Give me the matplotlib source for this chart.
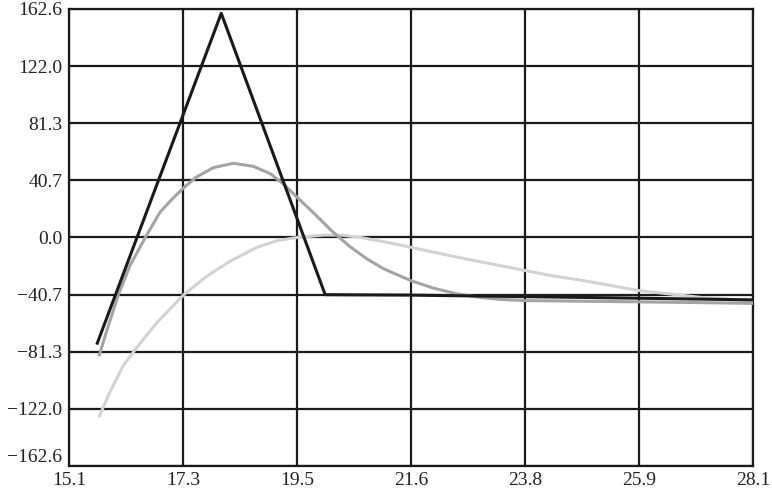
import numpy as np
import matplotlib
matplotlib.use('Agg')
import matplotlib.pyplot as plt

# values
x_ticks = [15.14, 17.3, 19.46, 21.62, 23.78, 25.94, 28.1]
x_labels = ['15.1', '17.3', '19.5', '21.6', '23.8', '25.9', '28.1']
y_ticks = [-162.6, -121.95, -81.3, -40.65, 0.0, 40.65, 81.3, 121.95, 162.6]
y_labels = ['\u2212162.6', '\u2212122.0', '\u221281.3', '\u221240.7', '0.0',
            '40.7', '81.3', '122.0', '162.6']

# dark line (piecewise)
x_dark = [15.67, 18.02, 19.99, 21.62, 23.78, 25.94, 28.1]
y_dark = [-75.2, 159.5, -40.7, -41.0, -42.1, -43.2, -44.4]

# medium grey curve
x_mid = [15.71, 15.85, 16.07, 16.29, 16.58, 16.86, 17.08, 17.31, 17.55, 17.87,
         18.25, 18.63, 18.95, 19.2, 19.46, 19.77, 20.12, 20.46, 20.78, 21.1,
         21.62, 22.04, 22.47, 22.98, 23.3, 23.78, 24.8, 25.94, 27.0, 28.1]
y_mid = [-83.5, -66.3, -40.7, -20.0, 0.0, 18.0, 27.0, 35.5, 43.0, 49.7,
         52.8, 50.6, 45.4, 38.0, 28.5, 17.5, 4.5, -6.5, -15.2, -22.3,
         -30.8, -36.0, -40.0, -42.9, -44.0, -44.9, -45.3, -45.8, -46.3, -46.9]

# light grey curve
x_light = [15.71, 15.91, 16.16, 16.42, 16.8, 17.31, 17.74, 18.19, 18.69, 19.07,
           19.46, 19.96, 20.3, 20.66, 21.1, 21.62, 22.36, 23.3, 23.78, 24.26,
           24.89, 25.94, 27.1, 28.1]
y_light = [-127.0, -110.0, -91.3, -78.2, -60.6, -40.7, -27.7, -16.8, -7.1, -2.3,
           0.0, 1.7, 1.7, 0.0, -3.0, -7.0, -13.0, -20.0, -23.5, -27.0,
           -30.7, -37.8, -42.6, -45.0]

plt.rcParams['font.family'] = ['Liberation Serif', 'DejaVu Serif']

fig = plt.figure(figsize=(7.72, 4.88), dpi=100)
ax = fig.add_axes([0.0898, 0.0451, 0.9754 - 0.0898, 0.9816 - 0.0451])

ax.plot(x_light, y_light, color='#d2d2d2', lw=2.2, zorder=3, solid_joinstyle='round')
ax.plot(x_mid, y_mid, color='#a3a3a3', lw=2.2, zorder=4, solid_joinstyle='round')
ax.plot(x_dark, y_dark, color='#1a1a1a', lw=2.2, zorder=5)

ax.set_xlim(15.14, 28.1)
ax.set_ylim(-162.6, 162.6)
ax.set_xticks(x_ticks)
ax.set_xticklabels(x_labels)
ax.set_yticks(y_ticks)
ax.set_yticklabels(y_labels)
ax.tick_params(axis='both', length=0, labelsize=14, colors='#222222')
ax.tick_params(axis='x', pad=4.5)
ax.tick_params(axis='y', pad=5)

# bottom y label sits a little above its gridline in the reference
ax.get_yticklabels()[0].set_va('bottom')

ax.grid(True, color='#1a1a1a', lw=1.6)
ax.set_axisbelow(True)
for s in ax.spines.values():
    s.set_color('#1a1a1a')
    s.set_linewidth(1.6)

fig.savefig('out.png', dpi=100)
